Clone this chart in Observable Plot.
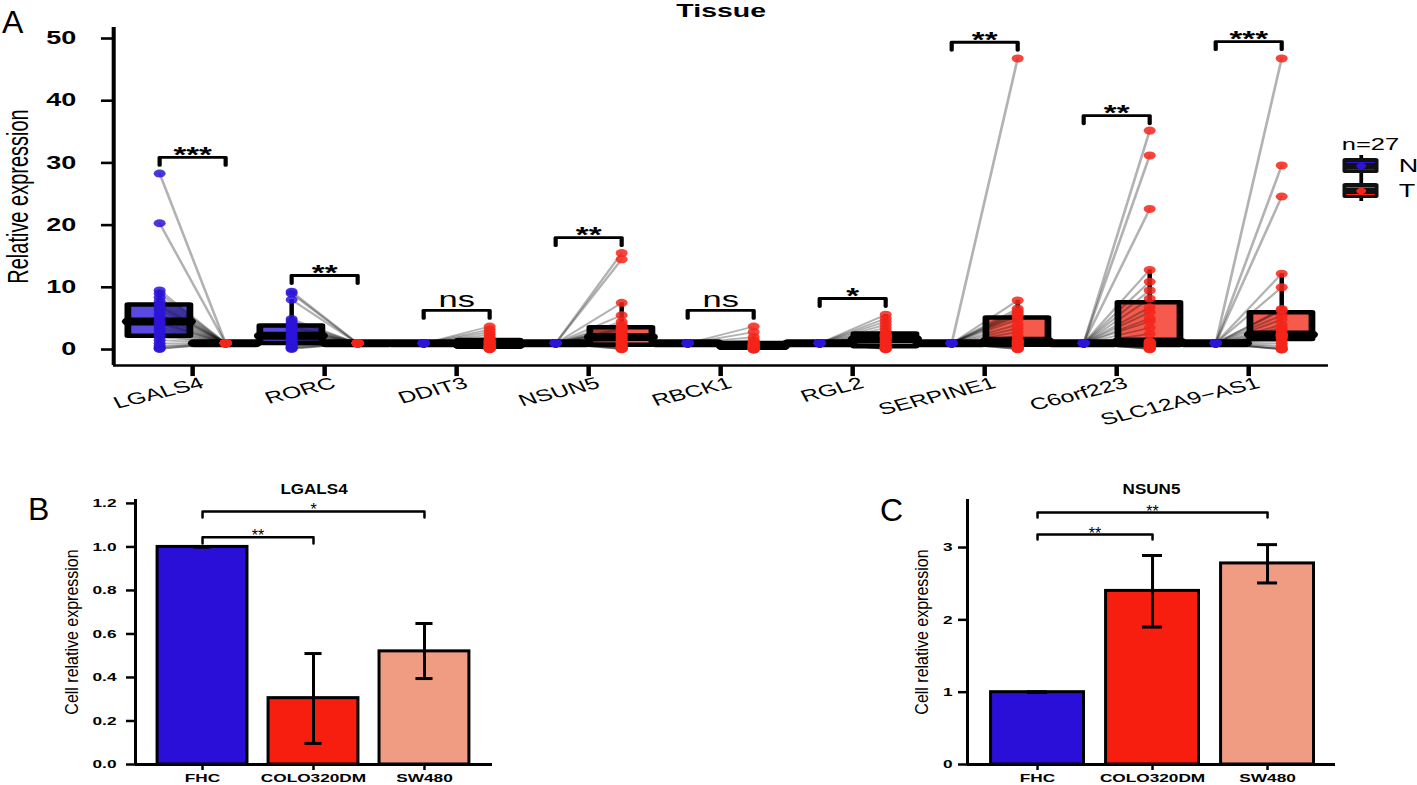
<!DOCTYPE html>
<html>
<head>
<meta charset="utf-8">
<script src="https://cdn.jsdelivr.net/npm/d3@7"></script>
<script src="https://cdn.jsdelivr.net/npm/@observablehq/plot@0.6"></script>
<style>
  html, body { margin: 0; padding: 0; width: 1417px; height: 785px; overflow: hidden; background: #fff;
    font-family: "Liberation Sans", Arial, sans-serif; }
  #panelA { position: absolute; left: 0; top: 0; width: 945px; height: 470px; transform-origin: 0 0; transform: scaleX(1.5); }
  #legendA { position: absolute; left: 890px; top: 130px; width: 50px; height: 80px; }
  #panelB { position: absolute; left: 0; top: 460px; width: 560px; height: 325px; }
  #panelC { position: absolute; left: 880px; top: 460px; width: 537px; height: 325px; }
  .letter { position: absolute; font-size: 32px; line-height: 32px; color: #000; font-family: "Liberation Sans", Arial, sans-serif; }
  g[aria-label="y-axis tick label"] text { font-weight: bold; }
  #panelB g[aria-label="x-axis tick label"] text, #panelC g[aria-label="x-axis tick label"] text { font-weight: bold; }
</style>
</head>
<body>
<div id="panelA"><div id="legendA"></div></div>
<div id="panelB"></div>
<div id="panelC"></div>
<div class="letter" style="left:2px;top:6px;">A</div>
<div class="letter" style="left:28px;top:493px;">B</div>
<div class="letter" style="left:880px;top:494px;">C</div>
<script>
// ---------------- Panel A data (27 paired samples per gene) ----------------
const genes = ["LGALS4", "RORC", "DDIT3", "NSUN5", "RBCK1", "RGL2", "SERPINE1", "C6orf223", "SLC12A9\u2212AS1"];
const ones27 = [1,1,1,1,1,1,1,1,1,1,1,1,1,1,1,1,1,1,1,1,1,1,1,1,1,1,1];
const lgals4N = [0.1,0.2,0.4,0.6,1.0,1.5,2.0,2.3,2.8,3.2,3.6,4.0,4.3,4.5,4.9,5.3,5.8,6.3,6.7,7.0,7.3,7.8,8.4,9.0,9.5,20.3,28.3];
const rorcN = [0.1,0.2,0.3,0.5,0.6,0.8,0.9,1.0,1.2,1.4,1.6,1.8,2.0,2.2,2.5,2.8,3.0,3.3,3.5,3.7,3.9,4.2,4.6,4.9,8.0,9.0,9.3];
const ddit3T = [0.05,0.1,0.15,0.2,0.25,0.3,0.35,0.4,0.45,0.5,0.55,0.6,0.7,0.8,0.9,1.0,1.1,1.2,1.3,1.4,1.5,1.8,2.0,2.4,2.8,3.2,3.7];
const nsun5T = [0.05,0.1,0.2,0.3,0.4,0.5,0.6,0.8,1.0,1.2,1.4,1.6,1.8,2.0,2.2,2.4,2.7,3.0,3.2,3.4,3.6,4.0,4.5,5.5,7.5,14.5,15.5];
const rbck1T = [0,0.02,0.05,0.08,0.1,0.15,0.2,0.25,0.3,0.35,0.4,0.45,0.5,0.55,0.6,0.65,0.7,0.75,0.8,0.9,1.0,1.1,1.3,1.5,2.0,2.8,3.7];
const rgl2T = [0.05,0.1,0.15,0.2,0.25,0.3,0.35,0.5,0.7,0.9,1.1,1.3,1.5,1.7,1.9,2.0,2.1,2.2,2.3,2.4,2.6,3.0,3.5,4.0,4.5,5.0,5.6];
const serpine1T = [0.05,0.1,0.2,0.3,0.4,0.5,0.6,0.8,1.0,1.1,1.2,1.3,1.35,1.4,1.8,2.2,2.8,3.4,4.0,4.8,5.3,5.6,5.9,6.2,6.6,7.9,46.8];
const c6orf223T = [0.05,0.1,0.2,0.3,0.4,0.5,0.6,0.7,0.8,0.9,1.0,1.1,1.2,1.3,2.5,3.5,4.5,5.0,6.0,6.8,8.2,9.5,10.9,12.8,22.6,31.2,35.2];
const slc12a9T = [0.02,0.05,0.1,0.3,0.6,1.0,1.4,1.8,2.0,2.1,2.2,2.3,2.3,2.4,2.6,3.0,3.5,4.0,4.8,5.5,6.3,6.5,10.0,12.2,24.6,29.6,46.8];
const normalValues = [lgals4N, rorcN, ones27, ones27, ones27, ones27, ones27, ones27, ones27];
const tumorValues  = [ones27, ones27, ddit3T, nsun5T, rbck1T, rgl2T, serpine1T, c6orf223T, slc12a9T];
const sigLabelsA  = ["***", "**", "ns", "**", "ns", "*", "**", "**", "***"];
const sigHeightsA = [30.9, 11.9, 6.3, 18.0, 6.3, 8.2, 49.4, 37.6, 49.5];
const yTicksA = [0, 10, 20, 30, 40, 50];
const groupsA = ["N", "T"];
const groupSizeLabel = "n=27";

// ---------------- Panels B / C data ----------------
const cellLines = ["FHC", "COLO320DM", "SW480"];
const barColors = ["#2a0fd9", "#f71e0f", "#f09c82"];
const lgals4Cell = [1.0, 0.305, 0.52];
const lgals4Lo   = [1.0, 0.097, 0.395];
const lgals4Hi   = [1.0, 0.51, 0.648];
const lgals4SigFrom = [0, 0], lgals4SigTo = [1, 2], lgals4SigH = [1.044, 1.163], lgals4SigLab = ["**", "*"];
const nsun5Cell = [1.0, 2.4, 2.78];
const nsun5Lo   = [0.995, 1.9, 2.51];
const nsun5Hi   = [1.005, 2.89, 3.04];
const nsun5SigFrom = [0, 0], nsun5SigTo = [1, 2], nsun5SigH = [3.18, 3.484], nsun5SigLab = ["**", "**"];
const yTicksB = [0, 0.2, 0.4, 0.6, 0.8, 1.0, 1.2];
const yTicksC = [0, 1, 2, 3];

// ---------------- Styling / layout constants ----------------
const FONT = "'Liberation Sans', Arial, sans-serif";
const svgStyle = `background: transparent; max-width: none; overflow: visible; font-family: ${FONT}; color: black;`;
const colN = "#2c14d8", colT = "#f5251a";
const boxFillN = "#5a4ae2", boxFillT = "#f55a4d";
const dodge = 0.25, boxHalf = 0.235, bracketTickA = 1.3, xTickLenA = 1.7;
const xDomainA = [-0.598, 8.606], yDomainA = [-2.57, 51.77];

// ---------------- Panel A ----------------
const rowsA = [];
genes.forEach((g, gi) => {
  normalValues[gi].forEach((v, k) => {
    rowsA.push({gene: g, gi, pair: g + "-" + k, group: "N", x: gi - dodge, value: v});
    rowsA.push({gene: g, gi, pair: g + "-" + k, group: "T", x: gi + dodge, value: tumorValues[gi][k]});
  });
});
function boxStats(vals) {
  const s = vals.slice().sort(d3.ascending);
  const q1 = d3.quantileSorted(s, 0.25), med = d3.quantileSorted(s, 0.5), q3 = d3.quantileSorted(s, 0.75);
  const iqr = q3 - q1;
  const hi = d3.max(s.filter(v => v <= q3 + 1.5 * iqr));
  const lo = d3.min(s.filter(v => v >= q1 - 1.5 * iqr));
  return {q1, med, q3, hi, lo};
}
const statsA = [];
genes.forEach((g, gi) => {
  statsA.push({gene: g, group: "N", x: gi - dodge, ...boxStats(normalValues[gi])});
  statsA.push({gene: g, group: "T", x: gi + dodge, ...boxStats(tumorValues[gi])});
});
const bracketPtsA = [];
const sigRowsA = genes.map((g, gi) => ({gene: g, x: gi, h: sigHeightsA[gi], label: sigLabelsA[gi]}));
sigRowsA.forEach(s => {
  bracketPtsA.push({gene: s.gene, x: s.x - dodge, y: s.h - bracketTickA});
  bracketPtsA.push({gene: s.gene, x: s.x - dodge, y: s.h});
  bracketPtsA.push({gene: s.gene, x: s.x + dodge, y: s.h});
  bracketPtsA.push({gene: s.gene, x: s.x + dodge, y: s.h - bracketTickA});
});
const xTickRowsA = genes.map((g, i) => ({x: i, top: yDomainA[0], bottom: yDomainA[0] - xTickLenA}));
const geneIdx = genes.map((g, i) => i);

const plotA = Plot.plot({
  width: 945, height: 470,
  marginLeft: 75.3, marginRight: 59.7, marginTop: 27, marginBottom: 105,
  x: {domain: xDomainA, label: null},
  y: {domain: yDomainA, label: null},
  style: svgStyle,
  marks: [
    Plot.rect(statsA.filter(d => d.group === "N"), {x1: d => d.x - boxHalf, x2: d => d.x + boxHalf, y1: "q1", y2: "q3", fill: boxFillN, stroke: "black", strokeWidth: 4.5, strokeLinejoin: "round"}),
    Plot.rect(statsA.filter(d => d.group === "T"), {x1: d => d.x - boxHalf, x2: d => d.x + boxHalf, y1: "q1", y2: "q3", fill: boxFillT, stroke: "black", strokeWidth: 4.5, strokeLinejoin: "round"}),
    Plot.ruleX(statsA, {x: "x", y1: "q3", y2: "hi", strokeWidth: 3}),
    Plot.ruleX(statsA, {x: "x", y1: "lo", y2: "q1", strokeWidth: 3}),
    Plot.ruleY(statsA, {x1: d => d.x - boxHalf, x2: d => d.x + boxHalf, y: "med", strokeWidth: 8, strokeLinecap: "round"}),
    Plot.line(rowsA, {x: "x", y: "value", z: "pair", stroke: "black", strokeOpacity: 0.3, strokeWidth: 1.8}),
    Plot.dot(rowsA.filter(d => d.group === "N"), {x: "x", y: "value", r: 4, fill: colN, fillOpacity: 0.85}),
    Plot.dot(rowsA.filter(d => d.group === "T"), {x: "x", y: "value", r: 4, fill: colT, fillOpacity: 0.85}),
    Plot.line(bracketPtsA, {x: "x", y: "y", z: "gene", stroke: "black", strokeWidth: 2.8}),
    Plot.text(sigRowsA.filter(d => d.label !== "ns"), {x: "x", y: "h", text: "label", lineAnchor: "bottom", dy: 4.5, fontSize: 22, fontWeight: "bold"}),
    Plot.text(sigRowsA.filter(d => d.label === "ns"), {x: "x", y: "h", text: "label", lineAnchor: "bottom", dy: -3, fontSize: 23}),
    Plot.ruleX([xDomainA[0]], {strokeWidth: 2.7}),
    Plot.ruleY([yDomainA[0]], {strokeWidth: 2.7}),
    Plot.axisY(yTicksA, {tickSize: 8, tickPadding: 17, fontSize: 18, strokeWidth: 2.6, label: null}),
    // x tick marks below the axis line
    Plot.link(xTickRowsA, {x1: "x", x2: "x", y1: "top", y2: "bottom", stroke: "black", strokeWidth: 3}),
    // x tick labels (rotated)
    Plot.axisX(geneIdx, {tickFormat: i => genes[i], tickRotate: -20, tickSize: 0, tickPadding: 10, dx: 6.5, dy: 7, fontSize: 16.5, label: null}),
    Plot.text(["Relative expression"], {frameAnchor: "left", rotate: -90, textAnchor: "middle", lineAnchor: "bottom", dx: -57, fontSize: 20}),
    Plot.text(["Tissue"], {frameAnchor: "top", textAnchor: "middle", lineAnchor: "bottom", dy: -11, fontSize: 19, fontWeight: "bold"})
  ]
});
document.getElementById("panelA").insertBefore(plotA, document.getElementById("legendA"));

// Legend (inside the stretched panel A container)
const legendRows = [{key: "N", color: colN}, {key: "T", color: colT}];
const legendPlot = Plot.plot({
  width: 50, height: 80,
  marginLeft: 5, marginRight: 21, marginTop: 22.5, marginBottom: 7.5,
  x: {domain: [0, 1], axis: null},
  y: {domain: groupsA, axis: null, padding: 0},
  style: svgStyle,
  marks: [
    Plot.ruleX([0.5], {y1: () => groupsA[0], y2: () => groupsA[1], strokeWidth: 2.5, insetTop: 2, insetBottom: 2}),
    Plot.barX(legendRows, {x1: 0, x2: 1, y: "key", fill: "#111", insetTop: 5, insetBottom: 5, rx: 2}),
    ...legendRows.map(r => Plot.tickY([r], {y: "key", stroke: r.color, strokeWidth: 1, dy: -3.5, insetLeft: 2.5, insetRight: 2.5})),
    ...legendRows.map(r => Plot.tickY([r], {y: "key", stroke: r.color, strokeWidth: 1, dy: 3.5, insetLeft: 2.5, insetRight: 2.5})),
    ...legendRows.map(r => Plot.dot([r], {x: 0.5, y: "key", r: 3.3, fill: r.color})),
    Plot.text(legendRows, {x: 1, y: "key", text: "key", dx: 13, textAnchor: "start", fontSize: 18}),
    Plot.text([groupSizeLabel], {frameAnchor: "top-left", lineAnchor: "bottom", dy: -3.5, dx: -1, textAnchor: "start", fontSize: 17})
  ]
});
document.getElementById("legendA").appendChild(legendPlot);

// ---------------- Panels B & C ----------------
function stretchTexts(svg, factorFor) {
  svg.querySelectorAll("text").forEach(t => {
    const s = factorFor(t.textContent);
    if (!s || s === 1) return;
    const tr = t.getAttribute("transform") || "";
    const m = tr.match(/^\s*(translate\([^)]*\))?(.*)$/);
    let pre = m[1] || "";
    const rest = m[2] || "";
    const x = t.getAttribute("x");
    if (x != null && !isNaN(+x) && !/rotate/.test(rest)) { pre += ` translate(${x},0)`; t.removeAttribute("x"); }
    t.setAttribute("transform", `${pre} scale(${s},1) ${rest}`.trim());
  });
}

function barPanel(cfg) {
  const bars = cellLines.map((c, i) => ({line: c, i, value: cfg.values[i], lo: cfg.lo[i], hi: cfg.hi[i]}));
  const sig = cfg.sigFrom.map((f, k) => ({k, from: f, to: cfg.sigTo[k], h: cfg.sigH[k], label: cfg.sigLab[k]}));
  const pts = [];
  sig.forEach(s => {
    pts.push({k: s.k, x: s.from, y: s.h - cfg.bracketTick});
    pts.push({k: s.k, x: s.from, y: s.h});
    pts.push({k: s.k, x: s.to, y: s.h});
    pts.push({k: s.k, x: s.to, y: s.h - cfg.bracketTick});
  });
  const svg = Plot.plot({
    width: cfg.width, height: 325,
    marginLeft: cfg.marginLeft, marginRight: cfg.marginRight, marginTop: 39, marginBottom: 21,
    x: {domain: cfg.xDomain, label: null},
    y: {domain: cfg.yDomain, label: null},
    color: {type: "ordinal", domain: cellLines, range: barColors},
    style: svgStyle,
    marks: [
      Plot.rectY(bars, {x1: d => d.i - cfg.barHalf, x2: d => d.i + cfg.barHalf, y1: 0, y2: "value", fill: "line", stroke: "black", strokeWidth: 3}),
      Plot.ruleX(bars, {x: "i", y1: "lo", y2: "hi", strokeWidth: 3}),
      Plot.ruleY(bars, {x1: d => d.i - cfg.capHalf, x2: d => d.i + cfg.capHalf, y: "hi", strokeWidth: 3}),
      Plot.ruleY(bars, {x1: d => d.i - cfg.capHalf, x2: d => d.i + cfg.capHalf, y: "lo", strokeWidth: 3}),
      Plot.line(pts, {x: "x", y: "y", z: "k", stroke: "black", strokeWidth: 2.5}),
      Plot.text(sig, {x: d => (d.from + d.to) / 2, y: "h", text: "label", lineAnchor: "bottom", dy: 4, fontSize: 16}),
      Plot.ruleX([cfg.xDomain[0]], {strokeWidth: 3}),
      Plot.ruleY([0], {strokeWidth: 3}),
      Plot.axisY(cfg.yTicks, {tickSize: cfg.yTickSize, tickPadding: cfg.yTickPad, tickFormat: cfg.tickFormat, fontSize: 11.5, strokeWidth: 2.5, label: null}),
      Plot.axisX(cellLines.map((c, i) => i), {tickFormat: i => cellLines[i], tickSize: 6, tickPadding: 3, fontSize: 11.5, strokeWidth: 2.5, label: null}),
      Plot.text(["Cell relative expression"], {frameAnchor: "left", rotate: -90, textAnchor: "middle", lineAnchor: "bottom", dx: cfg.yLabelDx, fontSize: 16}),
      Plot.text([cfg.title], {frameAnchor: "top", textAnchor: "middle", lineAnchor: "bottom", dy: -6, fontSize: 15.5, fontWeight: "bold"})
    ]
  });
  const tickTexts = new Set([...cfg.yTicks.map(cfg.tickFormat), ...cellLines]);
  stretchTexts(svg, txt => tickTexts.has(txt) ? 1.5 : txt === "Cell relative expression" ? 1.2 : txt === cfg.title ? 1.1 : 1);
  return svg;
}

document.getElementById("panelB").appendChild(barPanel({
  title: "LGALS4", values: lgals4Cell, lo: lgals4Lo, hi: lgals4Hi,
  sigFrom: lgals4SigFrom, sigTo: lgals4SigTo, sigH: lgals4SigH, sigLab: lgals4SigLab,
  width: 560, marginLeft: 135, marginRight: 68,
  xDomain: [-0.604, 2.613], yDomain: [0, 1.218], yTicks: yTicksB, tickFormat: d3.format(".1f"),
  barHalf: 0.405, capHalf: 0.077, bracketTick: 0.028, yTickSize: 9, yTickPad: 10, yLabelDx: -58
}));
document.getElementById("panelC").appendChild(barPanel({
  title: "NSUN5", values: nsun5Cell, lo: nsun5Lo, hi: nsun5Hi,
  sigFrom: nsun5SigFrom, sigTo: nsun5SigTo, sigH: nsun5SigH, sigLab: nsun5SigLab,
  width: 537, marginLeft: 87, marginRight: 82,
  xDomain: [-0.609, 2.591], yDomain: [0, 3.664], yTicks: yTicksC, tickFormat: d3.format("d"),
  barHalf: 0.404, capHalf: 0.087, bracketTick: 0.07, yTickSize: 9, yTickPad: 6, yLabelDx: -40
}));
</script>
</body>
</html>
